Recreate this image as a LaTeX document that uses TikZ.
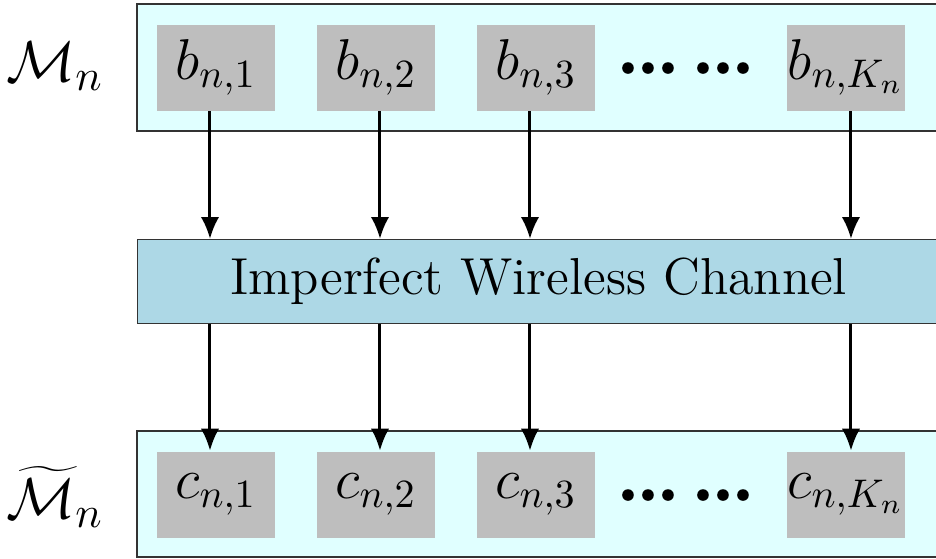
\documentclass[tikz,border=0pt]{standalone}
\usetikzlibrary{arrows.meta,calc}
\definecolor{lcyan}{HTML}{E0FFFF}
\definecolor{lblue}{HTML}{ADD8E6}
\definecolor{boxgray}{HTML}{BEBEBE}
\definecolor{edge}{HTML}{333333}
\begin{document}
\begin{tikzpicture}[x=0.25pt,y=-0.25pt,
  panel/.style={draw=edge,line width=0.3pt,fill=lcyan},
  chan/.style={draw=edge,line width=0.3pt,fill=lblue},
  sym/.style={fill=boxgray,minimum width=29.5pt,minimum height=21.5pt,inner sep=0pt,font=\fontsize{14}{16}\selectfont},
  lab/.style={font=\fontsize{15}{18}\selectfont},
  arr/.style={line width=0.75pt,-{Latex[length=5.5pt,width=4.6pt]}},
  dot/.style={fill=black}]
\useasboundingbox (0,0) rectangle (936,559);
\clip (0,0) rectangle (936,559);
% panels
\path[panel] (137,4) rectangle (940,131);
\node[chan,minimum width=200.5pt,minimum height=21pt,inner sep=0pt,anchor=north west,
  font=\fontsize{13}{15}\selectfont] (ch) at (137,239) {Imperfect Wireless Channel};
\path[panel] (137,431) rectangle (940,557);
% top row
\node[sym] (b1) at (216,67.5) {$b_{n,1}$};
\node[sym] (b2) at (376,67.5) {$b_{n,2}$};
\node[sym] (b3) at (536,67.5) {$b_{n,3}$};
\node[sym] (bk) at (846,67.5) {$b_{n,K_n}$};
% bottom row
\node[sym] (c1) at (216,494.5) {$c_{n,1}$};
\node[sym] (c2) at (376,494.5) {$c_{n,2}$};
\node[sym] (c3) at (536,494.5) {$c_{n,3}$};
\node[sym] (ck) at (846,494.5) {$c_{n,K_n}$};
% dots
\foreach \x in {628,648,668,703,723,743}{
  \fill[dot] (\x,68) circle (5.8);
  \fill[dot] (\x,495) circle (5.8);
}
% labels
\node[lab] (m) at (55,66) {$\mathcal{M}_n$};
\node[lab] (mt) at (55,497) {$\widetilde{\mathcal{M}}_n$};
% arrow columns
\coordinate (a1) at (210,0);
\coordinate (a2) at (380,0);
\coordinate (a3) at (530,0);
\coordinate (a4) at (851,0);
\draw[arr] (b1.south -| a1) -- (ch.north -| a1);
\draw[arr] (b2.south -| a2) -- (ch.north -| a2);
\draw[arr] (b3.south -| a3) -- (ch.north -| a3);
\draw[arr] (bk.south -| a4) -- (ch.north -| a4);
\draw[arr] (ch.south -| a1) -- (c1.north -| a1);
\draw[arr] (ch.south -| a2) -- (c2.north -| a2);
\draw[arr] (ch.south -| a3) -- (c3.north -| a3);
\draw[arr] (ch.south -| a4) -- (ck.north -| a4);
\end{tikzpicture}
\end{document}
